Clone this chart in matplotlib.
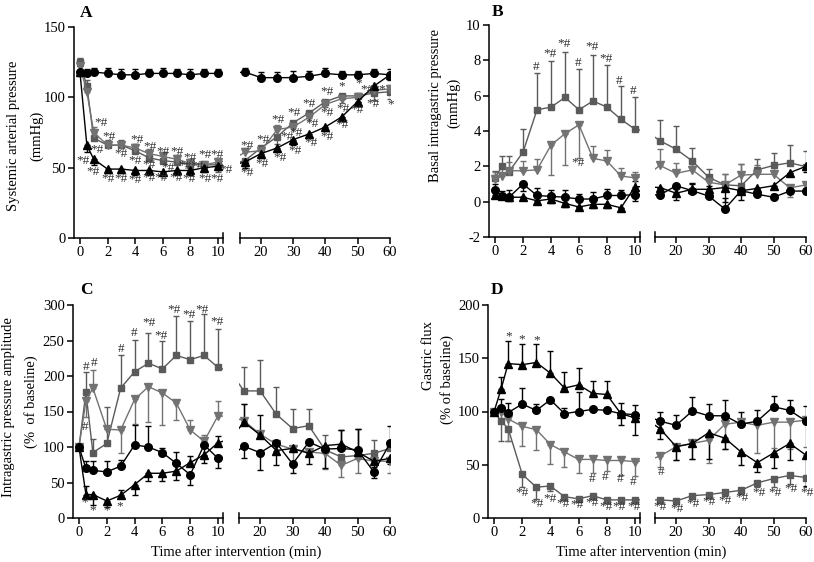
import numpy as np
import matplotlib.pyplot as plt

plt.rcParams['font.family'] = ['Liberation Serif', 'DejaVu Serif']
plt.rcParams['axes.unicode_minus'] = False

W, H = 814, 562

t = [0, 0.5, 1, 2, 3, 4, 5, 6, 7, 8, 9, 10, 15, 20, 25, 30, 35, 40, 45, 50, 55, 60]

# panel A - systemic arterial pressure (mmHg)
a_circ = [118, 117, 118, 117, 116, 116, 117, 117, 117, 116, 117, 117, 118, 114, 114, 114, 115, 117, 116, 116, 117, 116]
a_circ_err = [4, 3, 3, 4, 4, 4, 3, 4, 3, 4, 3, 3, 3, 4, 4, 5, 4, 4, 3, 3, 3, 4]
a_sq = [125, 108, 71, 66, 66, 62, 57, 55, 54, 52, 52, 52, 55, 64, 72, 82, 89, 97, 101, 101, 103, 104]
a_sq_err = [3, 4, 5, 4, 4, 5, 4, 4, 4, 4, -4, -5, -5, -4, -5, -4, -4, -4, -5, -4, -5, -5]
a_dn = [122, 104, 75, 66, 66, 64, 60, 58, 56, 53, 52, 54, 61, 62, 77, 79, 86, 95, 99, 100, 105, 106]
a_dn_err = [3, 4, 4, 3, 3, 3, 3, 3, 3, 3, 3, 3, 3, 3, 3, 3, 3, 3, 3, 3, 3, 3]
a_tri = [118, 66, 56, 49, 49, 48, 48, 47, 48, 48, 50, 51, 54, 60, 64, 70, 74, 79, 86, 97, 108, 116]
a_tri_err = [-3, -5, -4, -3, -3, -3, -3, -3, -3, -3, -3, -3, -4, -3, -3, -4, -3, -3, -3, -3, 0, -4]
a_notes = [(1.5, 81.5, '*#'), (2.1, 72, '*#'), (0.24, 55, '*#'), (1.2, 62.5, '*#'), (0.97, 47, '*#'),
           (3.0, 60, '*#'), (2.0, 41.7, '*#'), (2.95, 41.7, '*#'), (4.1, 70, '*#'), (4.0, 55, '*#'),
           (4.0, 41, '*#'), (5.07, 64.5, '*#'), (5.0, 42.4, '*#'), (6.0, 61, '*#'), (5.9, 42.4, '*#'),
           (7.05, 61, '*#'), (6.96, 42.4, '*#'), (8.0, 57, '*#'), (7.9, 41.7, '*#'), (9.06, 59, '*#'),
           (9.9, 59, '*#'), (9.06, 41.7, '*#'), (9.9, 41.7, '*#'), (10.6, 48, '*#'), (5.0, 52, '*#'),
           (6.4, 50, '*#'), (7.6, 51, '*#'), (8.5, 51, '*#'),
           (15.75, 65.6, '*#'), (15.6, 46, '*#'), (20.7, 69.7, '*#'), (20.2, 52.4, '*#'), (25.4, 84, '*#'),
           (25.9, 56.6, '*#'), (28.2, 71.6, '*#'), (30.2, 88.6, '*#'), (30.5, 62, '*#'), (30.9, 74.9, '*#'),
           (34.9, 95, '*#'), (35.4, 67.3, '*#'), (35.7, 81, '*#'), (40.4, 104, '*#'), (40.6, 88.6, '*#'),
           (40.4, 72, '*#'), (45, 108, '*'), (45.3, 92, '*#'), (45, 80, '*#'), (50.2, 110, '*'),
           (49.7, 91, '*#'), (52.8, 105, '*#'), (57.4, 105.7, '*'), (54.8, 95, '*#'), (60.2, 95, '*')]

# panel B - basal intragastric pressure (mmHg)
b_circ = [0.65, 0.3, 0.25, 1.0, 0.35, 0.3, 0.25, 0.15, 0.15, 0.35, 0.35, 0.4, 0.38, 0.9, 0.62, 0.32, -0.41, 0.62, 0.42, 0.25, 0.6, 0.6]
b_circ_err = [0.35, 0.3, 0.4, -0.4, 0.4, 0.35, 0.4, 0.3, 0.4, 0.35, 0.3, -0.35, 0.4, -0.5, 0.45, 0.3, 0.6, 0.3, 0.3, 0.2, 0.2, 0.2]
b_tri = [0.4, 0.3, 0.25, 0.25, 0.05, 0.15, -0.1, -0.3, -0.15, -0.15, -0.35, 0.85, 0.8, 0.48, 0.7, 0.7, 0.8, 0.62, 0.75, 0.9, 1.64, 2.0]
b_tri_err = [0.3, 0.2, -0.2, 0, -0.2, -0.2, -0.2, 0, -0.2, -0.2, 0, 0.3, -0.35, -0.4, 0.3, 0.2, -0.8, -0.55, -0.3, 0, 0, -0.3]
b_sq = [1.34, 2.0, 1.7, 2.8, 5.2, 5.35, 5.9, 5.2, 5.7, 5.35, 4.66, 4.1, 3.45, 2.97, 2.3, 1.38, 0.95, 0.9, 1.8, 2.05, 2.2, 1.98]
b_sq_err = [0.4, 0.6, 0.9, 1.3, 2.1, 2.6, 2.6, 2.3, 2.6, 2.4, 1.9, 1.8, 1.2, 1.3, 0.75, 0.45, 0.6, 1.25, 0.6, 0.7, 1.0, 0.9]
b_dn = [1.3, 1.45, 1.75, 1.75, 1.8, 3.2, 3.85, 4.35, 2.45, 2.3, 1.45, 1.35, 2.05, 1.6, 1.8, 1.1, 0.95, 1.5, 1.55, 1.55, 0.78, 0.95]
b_dn_err = [0.4, 0.6, 0.5, 0.55, 0.6, -1.7, -1.8, -1.85, 0.7, 0.6, 0.45, 0.35, 0.95, 0.6, 0.35, 0.3, 0.6, 0.65, 0.55, 0.6, -0.5, -0.5]
b_notes = [(2.93, 7.64, '#'), (3.96, 8.34, '*#'), (4.96, 8.9, '*#'), (5.92, 7.87, '#'), (6.9, 8.74, '*#'),
           (7.9, 8.06, '*#'), (8.87, 6.83, '#'), (9.9, 6.27, '#'), (5.92, 2.17, '*#')]

# panel C - intragastric pressure amplitude (% of baseline)
c_circ = [100, 70, 67, 65, 73, 103, 100, 92, 77, 61, 103, 84, 101, 92, 106, 76, 107, 97, 98, 96, 65, 105]
c_circ_err = [0, 10, 13, 15, 8, 28, 30, 7, 16, -14, -16, -14, -17, -24, 0, -13, 0, -26, 26, 30, -8, 25]
c_tri = [100, 33, 33, 24, 32, 47, 63, 63, 66, 78, 89, 106, 135, 117, 95, 98, 91, 102, 104, 93, 80, 84]
c_tri_err = [0, 12, -15, -8, 8, -15, -11, -11, -12, 10, -12, 10, 26, 28, -21, 0, -15, 0, 20, 33, -8, -8]
c_sq = [100, 177, 92, 105, 183, 206, 218, 210, 229, 223, 229, 212, 179, 179, 146, 126, 130, 96, 86, 88, 91, 98]
c_sq_err = [0, 28, 19, 51, 46, 45, 43, 39, 56, 54, 58, 54, 33, 44, 39, 27, 23, 21, 0, 0, 19, 0]
c_dn = [100, 165, 183, 125, 124, 167, 185, 176, 162, 124, 108, 144, 137, 118, 104, 97, 93, 91, 74, 84, 80, 80]
c_dn_err = [0, -23, 26, 0, -32, -35, -50, -45, -24, 14, 9, 21, 23, 0, 0, -21, 0, -22, -16, -21, 0, -17]
c_notes = [(0.5, 213, '#'), (1.08, 219, '#'), (0.43, 128.6, '#'), (3.0, 237.6, '#'), (3.96, 260, '#'),
           (5.0, 274, '*#'), (5.88, 256.8, '*#'), (6.83, 293, '*#'), (7.9, 286, '*#'), (8.85, 293, '*#'),
           (9.9, 276.5, '*#'), (0.43, 21.6, '*'), (0.98, 11, '*'), (2.0, 10.3, '*'), (2.95, 17, '*')]

# panel D - gastric flux (% of baseline)
d_circ = [100, 103, 99, 107, 101, 111, 98, 100, 102, 101, 98, 97, 91, 87, 100.5, 96, 96, 88, 91, 104.5, 101, 91]
d_circ_err = [0, 9, 9, 15, 6, 0, 5, 18, 0, 0, 10, 9, 9, 10, 13, 11, 15, 12, 10, 10, 10, 14]
d_tri = [100, 121, 145, 144, 146, 136, 122, 125, 117, 116, 98, 94, 84, 67, 70, 80, 75, 62, 52, 61, 70, 59]
d_tri_err = [0, 11, 21, 19, 17, 21, 15, 16, 12, 13, -11, -16, -10, -13, -15, -25, -10, -12, -9, -14, -16, -29]
d_dn = [100, 100, 93, 86, 83, 69, 62, 55, 55, 54, 54, 53, 58, 67, 70, 73, 88, 90, 87, 90, 90, 92]
d_dn_err = [0, -10, -21, -18, -19, -18, -14, -13, -13, -10, -14, -14, -10, -13, -15, -21, -23, 0, -26, -24, -25, -25]
d_sq = [100, 91, 84, 41, 29, 30, 20, 18, 21, 17, 17, 17, 17, 16, 21, 22, 24, 26, 33, 37, 40, 38]
d_sq_err = [0, -19, -12, -12, -11, -5, -3, -3, -3, -3, -3, -3, -3, -3, -3, -3, -3, -3, -4, -8, -8, -9]
d_notes = [(1.03, 171, '*'), (1.99, 168, '*'), (3.0, 166.5, '*'), (6.95, 36.3, '#'), (7.87, 38.2, '#'),
           (8.95, 36.3, '#'), (9.9, 33.5, '#'), (1.97, 23.8, '*#'), (3.05, 13.1, '*#'), (3.96, 17.8, '*#'),
           (4.92, 13.1, '*#'), (5.92, 12.2, '*#'), (6.95, 14.4, '*#'), (7.91, 10, '*#'), (8.87, 10.6, '*#'),
           (9.95, 10.6, '*#'), (15.3, 42.9, '#'), (15.1, 10.6, '*#'), (20.2, 8.5, '*#'), (25.1, 12.8, '*#'),
           (30.2, 15.3, '*#'), (35.1, 16, '*#'), (40.2, 19, '*#'), (45.6, 23.2, '*#'), (50.5, 23.2, '*#'),
           (55.4, 26.9, '*#'), (60.2, 23.2, '*#')]

GREY_SQ = '#5a5a5a'
GREY_DN = '#727272'


def add_axes(x0, x1, ytop, ybot):
    return plt.gcf().add_axes([x0 / W, 1 - ybot / H, (x1 - x0) / W, (ybot - ytop) / H])


def series(ax, vals, errs, marker, color, ms):
    e = np.array(errs, dtype=float)
    lo = np.where(e < 0, -e, 0)
    hi = np.where(e > 0, e, 0)
    ax.errorbar(t, vals, yerr=[lo, hi], fmt='none', ecolor=color, elinewidth=1.0,
                capsize=2.5, capthick=1.0, zorder=2)
    ax.plot(t, vals, color=color, lw=1.0, marker=marker, ms=ms, mec=color, mfc=color, zorder=3)


def panel(data, notes, x0, xb, xr, xe, ytop, ybot, ylim, yticks, letter, ylines, xlabel):
    axl = add_axes(x0, xb, ytop, ybot)
    axr = add_axes(xr, xe, ytop, ybot)
    axl.set_xlim(-0.43, 10.36)
    axr.set_xlim(13.5, 60)
    for ax in (axl, axr):
        for vals, errs, m, c, ms in data:
            series(ax, vals, errs, m, c, ms)
        ax.set_ylim(*ylim)
        ax.spines['top'].set_visible(False)
        ax.spines['right'].set_visible(False)
        ax.spines['bottom'].set_linewidth(1.1)
        ax.spines['left'].set_linewidth(1.1)
        ax.tick_params(direction='out', length=4, width=1.1, labelsize=10.5, pad=2)
        ax.set_facecolor('none')
        # break marks
        f = 5.0 / (ybot - ytop)
        xb_ = 1 if ax is axl else 0
        ax.plot([xb_, xb_], [-f, f], transform=ax.transAxes, color='black', lw=1.1, clip_on=False)
    axl.set_xticks([0, 2, 4, 6, 8, 10])
    axr.set_xticks([20, 30, 40, 50, 60])
    axl.set_yticks(yticks)
    axr.spines['left'].set_visible(False)
    axr.set_yticks([])
    for tx, ty, s in notes:
        ax = axl if tx < 12 else axr
        ax.text(tx, ty, s, ha='center', va='center', fontsize=9.5, color='#2e2e2e', clip_on=False, zorder=5)
    fig = plt.gcf()
    fig.text(letter[1] / W, 1 - letter[2] / H, letter[0], fontsize=12.5, fontweight='bold', ha='center', va='center')
    for s, lx, ly in ylines:
        fig.text(lx / W, 1 - ly / H, s, rotation=90, fontsize=10.5, ha='center', va='center')
    if xlabel:
        fig.text(xlabel[0] / W, 1 - xlabel[1] / H, 'Time after intervention (min)', fontsize=10.5, ha='center', va='center')


fig = plt.figure(figsize=(W / 100, H / 100), dpi=100)

panel([(a_sq, a_sq_err, 's', GREY_SQ, 5), (a_dn, a_dn_err, 'v', GREY_DN, 5.5),
       (a_tri, a_tri_err, '^', 'black', 5.5), (a_circ, a_circ_err, 'o', 'black', 5.5)],
      a_notes, 74, 223, 240, 390, 27, 238, (0, 150), [0, 50, 100, 150],
      ('A', 86, 13), [('Systemic arterial pressure', 14, 136), ('(mmHg)', 37, 136)], None)

panel([(b_sq, b_sq_err, 's', GREY_SQ, 5), (b_dn, b_dn_err, 'v', GREY_DN, 5.5),
       (b_tri, b_tri_err, '^', 'black', 5.5), (b_circ, b_circ_err, 'o', 'black', 5.5)],
      b_notes, 489, 640, 655, 806, 25, 237, (-2, 10), [-2, 0, 2, 4, 6, 8, 10],
      ('B', 498, 12), [('Basal intragastric pressure', 436, 105), ('(mmHg)', 454, 103)], None)

panel([(c_sq, c_sq_err, 's', GREY_SQ, 5), (c_dn, c_dn_err, 'v', GREY_DN, 5.5),
       (c_tri, c_tri_err, '^', 'black', 5.5), (c_circ, c_circ_err, 'o', 'black', 5.5)],
      c_notes, 73, 223, 239, 390, 305, 518, (0, 300), [0, 50, 100, 150, 200, 250, 300],
      ('C', 86, 290), [('Intragastric pressure amplitude', 9, 407), ('(%  of baseline)', 31, 402)], (236, 552))

panel([(d_sq, d_sq_err, 's', GREY_SQ, 5), (d_dn, d_dn_err, 'v', GREY_DN, 5.5),
       (d_tri, d_tri_err, '^', 'black', 5.5), (d_circ, d_circ_err, 'o', 'black', 5.5)],
      d_notes, 488, 640, 655, 806, 305, 518, (0, 200), [0, 50, 100, 150, 200],
      ('D', 497, 290), [('Gastric flux', 429, 356), ('(% of baseline)', 447, 380)], (641, 552))

fig.savefig('out.png', dpi=100)
plt.close(fig)
